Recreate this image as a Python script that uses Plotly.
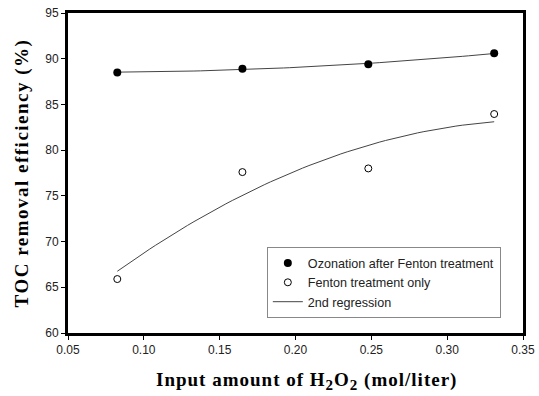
import numpy as np
import plotly.graph_objects as go

# H2O2 dose (mol/liter)
h2o2 = [0.0825, 0.165, 0.248, 0.331]
# TOC removal efficiency (%)
ozonation_after_fenton = [88.5, 88.9, 89.4, 90.6]
fenton_only = [65.9, 77.6, 78.0, 83.95]

x_ticks = [0.05, 0.10, 0.15, 0.20, 0.25, 0.30, 0.35]
x_tick_text = ["0.05", "0.10", "0.15", "0.20", "0.25", "0.30", "0.35"]
y_ticks = [60, 65, 70, 75, 80, 85, 90, 95]


def quadratic_fit(x, y, n=60):
    coef = np.polyfit(x, y, 2)
    xs = np.linspace(min(x), max(x), n)
    return xs, np.polyval(coef, xs)


fig = go.Figure()

line_style = dict(color="#444444", width=1)

xs1, ys1 = quadratic_fit(h2o2, ozonation_after_fenton)
fig.add_trace(go.Scatter(x=xs1, y=ys1, mode="lines", line=line_style,
                         showlegend=False, hoverinfo="skip"))
xs2, ys2 = quadratic_fit(h2o2, fenton_only)
fig.add_trace(go.Scatter(x=xs2, y=ys2, mode="lines", line=line_style,
                         name="2nd regression", legendrank=3))

fig.add_trace(go.Scatter(
    x=h2o2, y=ozonation_after_fenton, mode="markers",
    name="Ozonation after Fenton treatment", legendrank=1,
    marker=dict(symbol="circle", size=8, color="black"),
))
fig.add_trace(go.Scatter(
    x=h2o2, y=fenton_only, mode="markers",
    name="Fenton treatment only", legendrank=2,
    marker=dict(symbol="circle-open", size=7, color="black",
                line=dict(width=1, color="black")),
))

axis_common = dict(
    showline=True, linewidth=3, linecolor="black", mirror=True,
    showgrid=False, zeroline=False, ticks="outside", ticklen=4,
    tickwidth=1, tickcolor="black", automargin=False,
    tickfont=dict(family="Liberation Sans, Arial", size=12, color="#222"),
)

title_font = dict(family="Liberation Serif, Times New Roman", size=19, color="black")
sub = "<sub><span style='font-size:15px'>2</span></sub>"
x_title = ("<span style='letter-spacing:1px'><b>Input amount of H" + sub + "O" + sub
           + " (mol/liter)</b></span>")
y_title = "<span style='letter-spacing:1.5px'><b>TOC removal efficiency (%)</b></span>"

fig.update_layout(
    width=539, height=396,
    margin=dict(l=68, r=16, t=13, b=63),
    paper_bgcolor="white", plot_bgcolor="white",
    xaxis=dict(
        range=[0.05, 0.35], tickvals=x_ticks, ticktext=x_tick_text,
        **axis_common,
    ),
    yaxis=dict(
        range=[60, 95], tickvals=y_ticks,
        title=dict(text=y_title, font=title_font, standoff=12),
        **axis_common,
    ),
    legend=dict(
        x=0.437, y=0.268, xanchor="left", yanchor="top",
        bgcolor="white", bordercolor="#888", borderwidth=1,
        font=dict(family="Liberation Sans, Arial", size=12.6, color="#222"),
        tracegroupgap=0, itemwidth=30,
    ),
    annotations=[dict(
        text=x_title, font=title_font, showarrow=False,
        xref="paper", yref="paper", x=0.525, y=-0.15,
        xanchor="center", yanchor="middle",
    )],
)

fig.write_html("out.html")
